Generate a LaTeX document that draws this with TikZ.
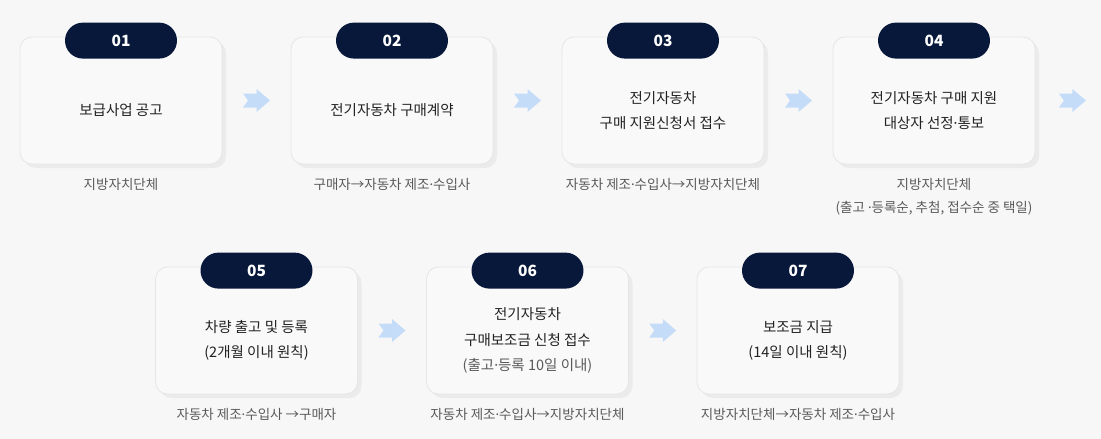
\documentclass[tikz,border=0pt]{standalone}
\usepackage{fontspec}
\setmainfont{Noto Sans CJK KR}
\newfontfamily\latinfont{Noto Sans}
\newcommand{\mdot}{{\latinfont ·}}
\usetikzlibrary{positioning, calc, shadows}
\definecolor{pagebg}{HTML}{F7F7F7}
\definecolor{cardfill}{HTML}{F9F9F9}
\definecolor{cardline}{HTML}{E6E6E6}
\definecolor{cardshadow}{HTML}{EBEBEB}
\definecolor{navy}{HTML}{07183A}
\definecolor{ink}{HTML}{222222}
\definecolor{subink}{HTML}{5A5A5A}
\definecolor{arrowblue}{HTML}{C5DCF8}

\begin{document}
\begin{tikzpicture}[x=1pt, y=-1pt,
    card/.style={draw=cardline, line width=0.8pt, fill=cardfill, rounded corners=12pt, minimum width=202pt, minimum height=127pt,
        drop shadow={shadow xshift=4pt, shadow yshift=-4pt, fill=cardshadow, opacity=1}},
    pill/.style={fill=navy, rounded corners=18pt, minimum width=112pt, minimum height=36pt, inner sep=0pt, text=white, font=\bfseries\fontsize{15.5}{17}\selectfont},
    body/.style={align=center, text=ink, inner sep=0pt, font=\fontsize{14.5}{25.5}\selectfont},
    who/.style={align=center, text=subink, inner sep=0pt, font=\fontsize{13.5}{23}\selectfont},
    flowarrow/.pic={\fill[arrowblue] (-13.5,-7) -- (0,-7) -- (0,-11.5) -- (13.5,0) -- (0,11.5) -- (0,7) -- (-13.5,7) -- (-8.5,0) -- cycle;},
]
\fill[pagebg] (0,0) rectangle (1101,439);
% Step 1 - announcement
\node[card] (c1) at (121,100.5) {};
\node[pill] (n1) at ([yshift=-4pt]c1.north) {01};
\node[body] (t1) at ([yshift=-10pt]c1.center) {보급사업 공고};
\node[who, below=14pt of c1] (w1) {지방자치단체};
% Step 2 - contract
\node[card] (c2) at (392,100.5) {};
\node[pill] (n2) at ([yshift=-4pt]c2.north) {02};
\node[body] (t2) at ([yshift=-10pt]c2.center) {전기자동차 구매계약};
\node[who, below=14pt of c2] (w2) {구매자→자동차 제조\mdot 수입사};
% Step 3 - application
\node[card] (c3) at (663,100.5) {};
\node[pill] (n3) at ([yshift=-4pt]c3.north) {03};
\node[body] (t3) at ([yshift=-10pt]c3.center) {전기자동차\\구매 지원신청서 접수};
\node[who, below=14pt of c3] (w3) {자동차 제조\mdot 수입사→지방자치단체};
% Step 4 - selection
\node[card] (c4) at (934,100.5) {};
\node[pill] (n4) at ([yshift=-4pt]c4.north) {04};
\node[body] (t4) at ([yshift=-10pt]c4.center) {전기자동차 구매 지원\\대상자 선정\mdot 통보};
\node[who, below=14pt of c4] (w4) {지방자치단체\\(출고 \mdot 등록순, 추첨, 접수순 중 택일)};
% Step 5 - delivery
\node[card] (c5) at (256.5,330.5) {};
\node[pill] (n5) at ([yshift=-4pt]c5.north) {05};
\node[body] (t5) at ([yshift=-10pt]c5.center) {차량 출고 및 등록\\(2개월 이내 원칙)};
\node[who, below=14pt of c5] (w5) {자동차 제조\mdot 수입사 →구매자};
% Step 6 - subsidy application
\node[card] (c6) at (527.5,330.5) {};
\node[pill] (n6) at ([yshift=-4pt]c6.north) {06};
\node[body] (t6) at ([yshift=-10pt]c6.center) {전기자동차\\구매보조금 신청 접수\\{\color{subink}(출고\mdot 등록 10일 이내)}};
\node[who, below=14pt of c6] (w6) {자동차 제조\mdot 수입사→지방자치단체};
% Step 7 - payment
\node[card] (c7) at (798,330.5) {};
\node[pill] (n7) at ([yshift=-4pt]c7.north) {07};
\node[body] (t7) at ([yshift=-10pt]c7.center) {보조금 지급\\(14일 이내 원칙)};
\node[who, below=14pt of c7] (w7) {지방자치단체→자동차 제조\mdot 수입사};
% Arrows
\pic at ($(c1.east)!0.5!(c2.west)$) {flowarrow};
\pic at ($(c2.east)!0.5!(c3.west)$) {flowarrow};
\pic at ($(c3.east)!0.5!(c4.west)$) {flowarrow};
\pic at ([xshift=37pt]c4.east) {flowarrow};
\pic at ($(c5.east)!0.5!(c6.west)$) {flowarrow};
\pic at ($(c6.east)!0.5!(c7.west)$) {flowarrow};
\end{tikzpicture}
\end{document}
